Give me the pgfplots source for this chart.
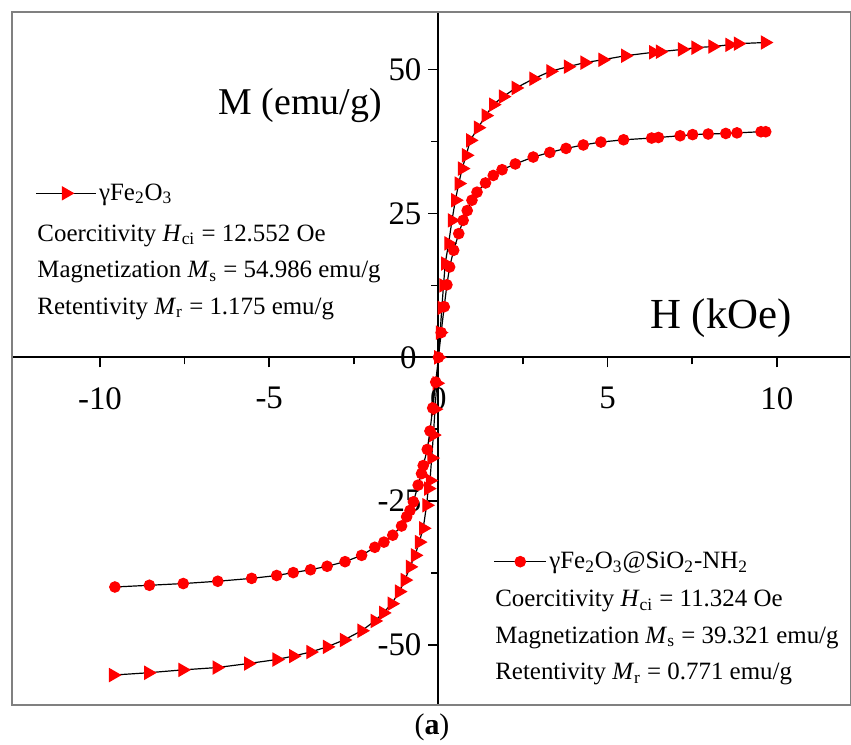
\documentclass[border=0pt]{standalone}
\usepackage{fontspec}
\setmainfont{Liberation Serif}
\usepackage{pgfplots}
\pgfplotsset{compat=1.18}
\begin{document}
\begin{tikzpicture}
\pgfplotsset{
  common/.style={
    at={(0,0)}, anchor=south west,
    scale only axis, width=419.5bp, height=346.5bp,
    xmin=-12.6, xmax=12.19, ymin=-60.4, ymax=60,
    clip=false,
    legend style={draw=none, fill=none, inner sep=0pt,
      nodes={inner xsep=1.25bp, inner ysep=0pt},
      font=\fontsize{12.5}{15}\selectfont},
    legend cell align=left,
  },
}
% gamma-Fe2O3 (triangles)
\begin{axis}[common,
  axis lines=middle,
  axis line style={-, line width=1bp, black},
  xtick={-10,-5,0,5,10}, ytick={-50,-25,0,25,50},
  minor x tick num=1, minor y tick num=1,
  tick align=outside,
  major tick length=5bp, minor tick length=3.5bp,
  tick style={black, line width=0.8bp},
  /pgf/number format/assume math mode=true,
  ticklabel style={font=\fontsize{16.5}{18}\selectfont},
  xticklabel style={yshift=-6.5bp},
  legend style={at={(axis cs:-11.92,28.5)}, anchor=west},
  legend image code/.code={\draw[mark repeat=2, mark phase=2, #1]
    plot coordinates {(0bp,0bp) (15bp,0bp) (30bp,0bp)};},
]
\draw[gray, line width=0.75bp] (rel axis cs:0,0) rectangle (rel axis cs:1,1);

\addplot[black, line width=0.6bp, mark=triangle*, mark size=3.6bp,
  mark options={solid, fill=red, draw=red, rotate=-90}] coordinates {
  (-9.61,-55.2) (-8.57,-54.8) (-7.56,-54.3) (-6.55,-53.9) (-5.62,-53.2)
  (-4.78,-52.5) (-4.29,-51.9) (-3.78,-51.2) (-3.29,-50.3) (-2.79,-49.1)
  (-2.27,-47.5) (-1.88,-45.8) (-1.63,-44.4) (-1.38,-42.8) (-1.16,-40.7)
  (-0.99,-38.7) (-0.84,-36.4) (-0.69,-34.4) (-0.57,-32.1) (-0.45,-29.7)
  (-0.35,-25.7) (-0.30,-22.8) (-0.25,-21.4) (-0.20,-17.5) (-0.15,-13.5)
  (-0.10,-9.0) (-0.05,-4.5) (0,0)
  (0.05,4.3) (0.10,8.6) (0.15,12.5) (0.20,16.3) (0.30,19.8) (0.40,23.8)
  (0.50,27.3) (0.60,30.2) (0.70,32.8) (0.82,35.1) (0.94,37.7) (1.17,39.9)
  (1.40,42.0) (1.62,43.9) (1.91,45.3) (2.29,46.8) (2.81,48.4) (3.31,49.7)
  (3.83,50.5) (4.32,51.2) (4.85,51.7) (5.52,52.4) (6.35,53.0) (6.55,53.1)
  (7.20,53.5) (7.60,53.8) (8.10,54.0) (8.60,54.3) (8.85,54.5) (9.65,54.7)
};
\addlegendentry{γFe\textsubscript{2}O\textsubscript{3}}

\node[anchor=west, align=left, inner sep=0pt,
  font=\fontsize{12.5}{18.25}\selectfont] at (axis cs:-11.86,14.8)
  {Coercitivity \textit{H}\textsubscript{ci} = 12.552 Oe\\
   Magnetization \textit{M}\textsubscript{s} = 54.986 emu/g\\
   Retentivity \textit{M}\textsubscript{r} = 1.175 emu/g};

% origin tick labels (not printed by middle axes)
\node[font=\fontsize{16.5}{18}\selectfont] at (axis cs:0,0) [yshift=-20.5bp] {0};
\node[font=\fontsize{16.5}{18}\selectfont] at (axis cs:0,0) [xshift=-15bp] {0};

\node[font=\fontsize{19}{22}\selectfont] at (axis cs:-4.08,43.75) {M (emu/g)};
\node[font=\fontsize{21.5}{24}\selectfont] at (axis cs:8.35,6.8) {H (kOe)};
\end{axis}

% gamma-Fe2O3@SiO2-NH2 (circles)
\begin{axis}[common, hide axis,
  legend style={at={(axis cs:1.62,-35.5)}, anchor=west},
  legend image code/.code={\draw[mark repeat=2, mark phase=2, #1]
    plot coordinates {(0bp,0bp) (13bp,0bp) (26bp,0bp)};},
]
\addplot[black, line width=0.6bp, mark=*, mark size=2.6bp,
  mark options={solid, fill=red, draw=red}] coordinates {
  (-9.56,-39.9) (-8.54,-39.6) (-7.54,-39.3) (-6.52,-38.9) (-5.52,-38.4)
  (-4.78,-37.9) (-4.29,-37.4) (-3.78,-36.9) (-3.29,-36.3) (-2.76,-35.5)
  (-2.27,-34.4) (-1.88,-33.0) (-1.61,-32.1) (-1.35,-30.9) (-1.09,-29.3)
  (-0.94,-27.7) (-0.84,-26.6) (-0.74,-25.1) (-0.60,-22.2) (-0.50,-20.2)
  (-0.45,-18.8) (-0.33,-16.0) (-0.25,-12.8) (-0.17,-8.8) (-0.08,-4.3) (0,0)
  (0.08,4.3) (0.17,8.8) (0.25,12.6) (0.33,15.7) (0.45,18.6) (0.60,21.5)
  (0.73,23.8) (0.85,25.5) (0.99,27.3) (1.14,28.7) (1.39,30.3) (1.62,31.6)
  (1.88,32.6) (2.27,33.6) (2.80,34.8) (3.29,35.6) (3.77,36.3) (4.28,36.9)
  (4.80,37.4) (5.47,37.8) (6.30,38.1) (6.50,38.2) (7.14,38.5) (7.51,38.7)
  (7.97,38.8) (8.49,38.9) (8.82,39.0) (9.53,39.2) (9.67,39.2)
};
\addlegendentry{γFe\textsubscript{2}O\textsubscript{3}@SiO\textsubscript{2}-NH\textsubscript{2}}

\node[anchor=west, align=left, inner sep=0pt,
  font=\fontsize{12.5}{18.25}\selectfont] at (axis cs:1.67,-48.7)
  {Coercitivity \textit{H}\textsubscript{ci} = 11.324 Oe\\
   Magnetization \textit{M}\textsubscript{s} = 39.321 emu/g\\
   Retentivity \textit{M}\textsubscript{r} = 0.771 emu/g};
\end{axis}

\node[font=\fontsize{15}{17}\selectfont] at (210bp,-11bp) {(\textbf{a})};
\pgfresetboundingbox
\path[use as bounding box] (-6bp,-20bp) rectangle (419.5bp,352.5bp);
\end{tikzpicture}
\end{document}
